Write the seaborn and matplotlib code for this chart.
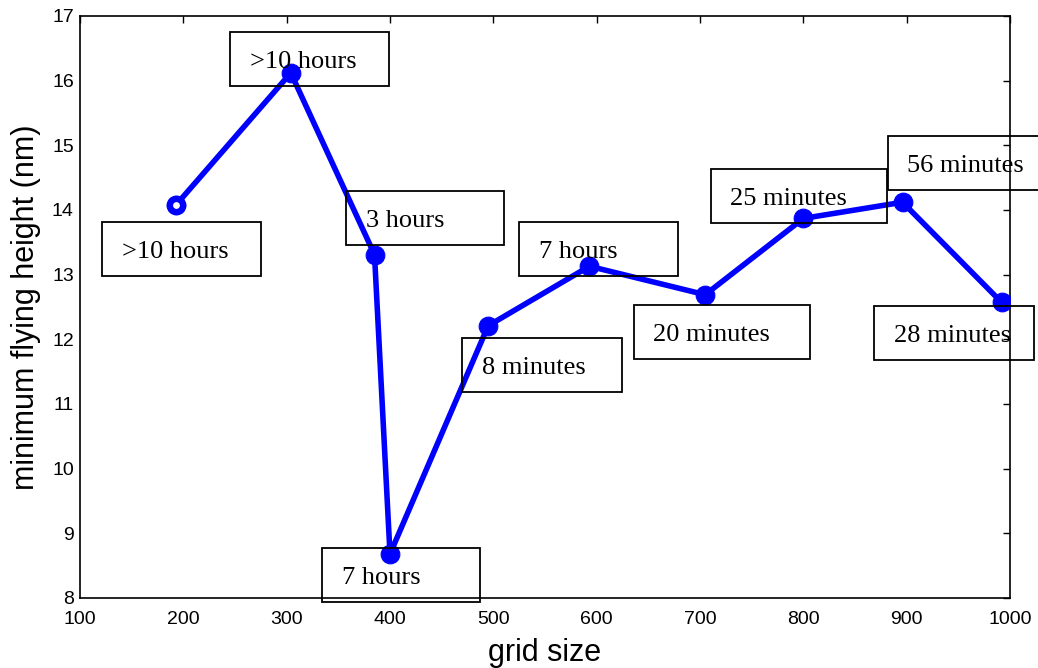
import matplotlib
matplotlib.use("Agg")
import matplotlib.pyplot as plt
import seaborn as sns
import pandas as pd
from matplotlib.patches import Rectangle

grid_size = [193, 304, 385, 400, 495, 593, 705, 800, 896, 992]
min_height = [14.08, 16.12, 13.31, 8.68, 12.21, 13.13, 12.69, 13.87, 14.12, 12.57]
run_time = [">10 hours", ">10 hours", "3 hours", "7 hours", "8 minutes",
            "7 hours", "20 minutes", "25 minutes", "56 minutes", "28 minutes"]
x_ticks = [100, 200, 300, 400, 500, 600, 700, 800, 900, 1000]
y_ticks = [8, 9, 10, 11, 12, 13, 14, 15, 16, 17]

# label box placement (left, top in data units; width in data units)
box_left = [121.3, 245.2, 357.4, 334.2, 470.0, 525.1, 635.8, 710.4, 881.6, 868.4]
box_top = [13.814, 16.753, 14.294, 8.773, 12.025, 13.810, 12.531, 14.634, 15.149, 12.520]
box_width = [153.9, 153.9, 152.9, 152.9, 154.3, 153.9, 170.9, 170.3, 170.0, 154.5]
box_height = 0.835

sns.set_style("white")
plt.rcParams['font.family'] = ['Liberation Sans', 'DejaVu Sans']
plt.rcParams['text.color'] = 'black'
plt.rcParams['axes.labelcolor'] = 'black'
plt.rcParams['xtick.color'] = 'black'
plt.rcParams['ytick.color'] = 'black'

fig = plt.figure(figsize=(10.38, 6.68), dpi=100)
ax = fig.add_axes([80/1038, 70/668, 930/1038, 582/668])

df = pd.DataFrame({"grid size": grid_size, "height": min_height})
sns.lineplot(data=df, x="grid size", y="height", ax=ax, color="#0000ff",
             linewidth=4.0, marker="o", markersize=13.5, markeredgecolor="#0000ff",
             zorder=3)
sns.scatterplot(data=df.iloc[:1], x="grid size", y="height", ax=ax, s=90,
                facecolor="white", edgecolor="#0000ff", linewidth=4.5, zorder=4)

ax.set_xlim(100, 1000)
ax.set_ylim(8, 17)
ax.set_xticks(x_ticks)
ax.set_yticks(y_ticks)
ax.tick_params(direction="in", top=True, right=True, length=5, width=1,
               labelsize=14, colors="black")
ax.tick_params(axis="x", pad=9.5)
ax.tick_params(axis="y", pad=4.5)
for s in ax.spines.values():
    s.set_color("black")
    s.set_linewidth(1.2)
ax.set_xlabel("grid size", fontsize=22, labelpad=7, color="black")
ax.set_ylabel("minimum flying height (nm)", fontsize=22, labelpad=7.5, color="black")

baseline_drop = 0.14
for lbl, l, t, w in zip(run_time, box_left, box_top, box_width):
    ax.add_patch(Rectangle((l, t - box_height), w, box_height, fill=False,
                           edgecolor="black", linewidth=1.3, clip_on=False, zorder=5))
    ax.text(l + 19, t - box_height / 2 - baseline_drop, lbl, ha="left", va="baseline",
            fontsize=19, family=["Liberation Serif", "DejaVu Serif"], color="black",
            clip_on=False, zorder=6)

fig.savefig("out.png", dpi=100)
